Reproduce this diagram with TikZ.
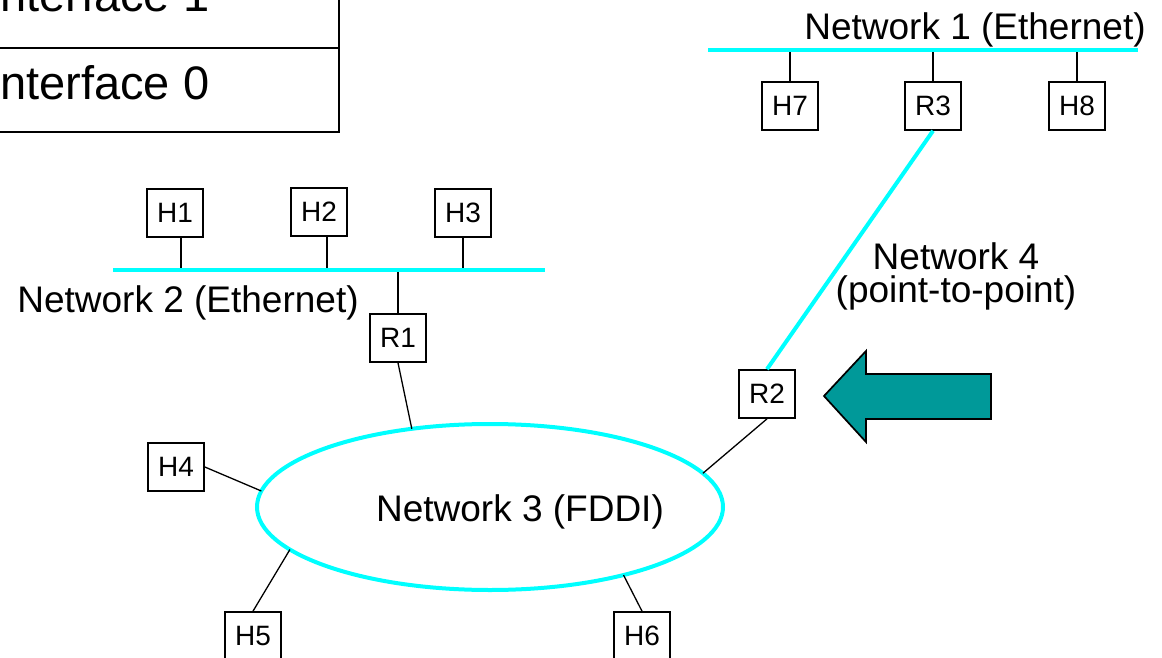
\documentclass[tikz,border=0pt]{standalone}
\usepackage{fontspec}
\setmainfont{Liberation Sans}
\usetikzlibrary{shapes.geometric}
\definecolor{netcyan}{RGB}{0,255,255}
\definecolor{arrowteal}{RGB}{0,153,153}

\begin{document}
\begin{tikzpicture}[x=1pt,y=-1pt,
    host node/.style={rectangle,draw,line width=1.7pt,fill=white,minimum width=56pt,minimum height=48pt,inner sep=0pt,font=\fontsize{28}{30}\selectfont},
    net label/.style={inner sep=0pt,font=\fontsize{37}{33}\selectfont},
    table text/.style={anchor=base west,inner sep=0pt,font=\fontsize{47}{50}\selectfont},
    wire/.style={-,line width=1.3pt},
    net line/.style={-,line width=4pt,draw=netcyan}]

  \useasboundingbox (0,0) rectangle (1162,658);
  \clip (0,0) rectangle (1162,658);

  % interface table
  \draw[line width=2.5pt] (-200,-60) -- (339,-60) -- (339,132) -- (-200,132);
  \draw[line width=2.5pt] (-200,48) -- (339,48);
  \node[table text] (if1) at (-13,12) {Interface 1};
  \node[table text] (if0) at (-13,100) {Interface 0};

  % network 1
  \coordinate (n1w) at (708,50);
  \coordinate (n1e) at (1138,50);
  \node[host node] (h7) at (790,106) {H7};
  \node[host node] (r3) at (933,106) {R3};
  \node[host node] (h8) at (1077,106) {H8};
  \path[wire] (h7.north) edge (h7.north |- n1w);
  \path[wire] (r3.north) edge (r3.north |- n1w);
  \path[wire] (h8.north) edge (h8.north |- n1w);
  \draw[net line] (n1w) -- (n1e);
  \node[net label,anchor=base] (net1) at (975,40) {Network 1 (Ethernet)};

  % network 2
  \coordinate (n2w) at (113,270);
  \coordinate (n2e) at (545,270);
  \node[host node] (h1) at (175,213) {H1};
  \node[host node] (h2) at (319,212) {H2};
  \node[host node] (h3) at (463,213) {H3};
  \node[host node] (r1) at (398,338) {R1};
  \path[wire] ([xshift=6pt]h1.south) edge ([xshift=6pt]h1.south |- n2w);
  \path[wire] ([xshift=8pt]h2.south) edge ([xshift=8pt]h2.south |- n2w);
  \path[wire,line width=2.5pt] (h3.south) edge (h3.south |- n2w);
  \path[wire] (r1.north) edge (r1.north |- n2w);
  \draw[net line] (n2w) -- (n2e);
  \node[net label,anchor=base] (net2) at (188,312) {Network 2 (Ethernet)};

  % network 3
  \node[ellipse,draw=netcyan,line width=4pt,minimum width=466pt,minimum height=166pt,inner sep=0pt,outer sep=0pt] (n3) at (490,507) {};
  \node[net label,anchor=base] (net3) at (520,521) {Network 3 (FDDI)};
  \node[host node] (h4) at (176,467) {H4};
  \node[host node] (h5) at (253,636) {H5};
  \node[host node] (h6) at (642,636) {H6};
  \node[host node] (r2) at (767,394) {R2};
  \path[wire] (r1.south) edge (n3.135.7);
  \path[wire] (h4.east) edge (n3.176.5);
  \path[wire] (h5.north) edge (n3.192.2);
  \path[wire] (h6.north) edge (n3.333.3);
  \path[wire] (r2.south) edge (n3.9.9);

  % network 4
  \draw[net line] (r3.south) -- (r2.north);
  \node[net label,anchor=north,align=center] (net4) at (956,242) {Network 4\\(point-to-point)};

  % arrow
  \filldraw[fill=arrowteal,draw=black,line width=1.7pt] (824,396) -- (866,351) -- (866,374) -- (991,374) -- (991,419) -- (866,419) -- (866,442) -- cycle;
\end{tikzpicture}
\end{document}
